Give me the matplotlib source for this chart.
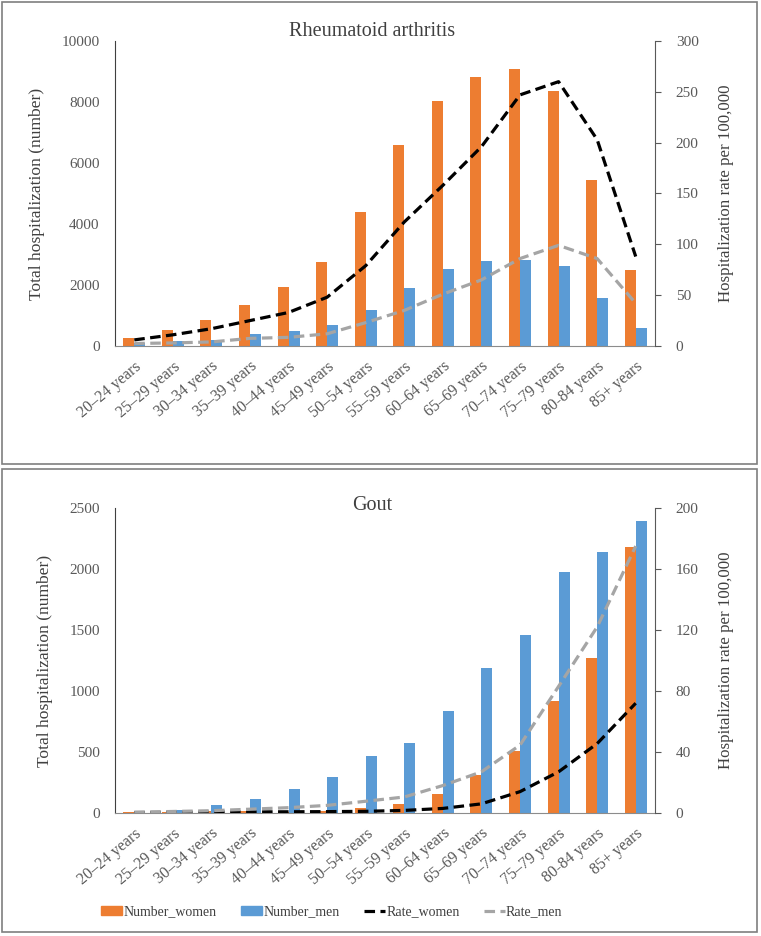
import numpy as np
import matplotlib
matplotlib.use('Agg')
import matplotlib.pyplot as plt
from matplotlib.patches import Rectangle
from matplotlib.lines import Line2D
from matplotlib.patches import Patch

plt.rcParams['font.family'] = ['Liberation Serif', 'DejaVu Serif']

age_groups = ['20–24 years', '25–29 years', '30–34 years', '35–39 years',
              '40–44 years', '45–49 years', '50–54 years', '55–59 years',
              '60–64 years', '65–69 years', '70–74 years', '75–79 years',
              '80-84 years', '85+ years']

# Rheumatoid arthritis
ra_number_women = [260, 540, 850, 1340, 1930, 2740, 4400, 6580, 8040, 8810,
                   9080, 8370, 5440, 2500]
ra_number_men = [110, 180, 210, 380, 490, 690, 1180, 1900, 2540, 2790,
                 2830, 2620, 1560, 580]
ra_rate_women = [6, 11, 17, 25, 33, 48, 79, 122, 158, 196, 247, 260, 203, 88]
ra_rate_men = [2.5, 3, 4, 7.5, 8.5, 12, 23, 35, 51, 65, 86, 99, 86, 42]

# Gout
gout_number_women = [8, 5, 20, 15, 10, 15, 44, 77, 153, 315, 507, 915,
                     1271, 2177]
gout_number_men = [5, 22, 66, 112, 194, 293, 465, 575, 838, 1186, 1459,
                   1974, 2141, 2396]
gout_rate_women = [0.3, 0.4, 0.5, 0.7, 0.8, 0.9, 1.1, 1.7, 3, 6, 14, 27,
                   45.5, 72]
gout_rate_men = [0.5, 1, 1.5, 2.5, 3.5, 5, 7.7, 10.5, 18, 27, 44.5, 83,
                 122, 175]

orange = '#ED7D31'
blue = '#5B9BD5'
grey_line = '#A5A5A5'
text_col = '#404040'
tick_col = '#595959'

W, H = 761, 936
fig = plt.figure(figsize=(W / 100, H / 100), dpi=100)

# panel frames
for (x0, y0, x1, y1) in [(2, 2, 757, 464), (2, 469, 757, 932)]:
    fig.patches.append(Rectangle((x0 / W, 1 - y1 / H), (x1 - x0) / W,
                                 (y1 - y0) / H, transform=fig.transFigure,
                                 fill=False, edgecolor='#7f7f7f', lw=1.2))

dash = (0, (3.3, 1.7))
bw = 0.285


def panel(rect, title, title_y, nw, nm, rw, rm, ymax, yticks, rmax, rticks):
    ax = fig.add_axes(rect)
    x = np.arange(len(age_groups))
    ax.bar(x - bw / 2, nw, bw, color=orange, zorder=2)
    ax.bar(x + bw / 2, nm, bw, color=blue, zorder=2)
    ax.set_xlim(-0.5, len(age_groups) - 0.5)
    ax.set_ylim(0, ymax)
    ax.set_yticks(yticks)
    ax.tick_params(axis='y', length=0, pad=11, labelsize=11,
                   labelcolor=tick_col)
    ax.set_xticks(x)
    ax.set_xticklabels(age_groups, rotation=40, ha='right',
                       rotation_mode='anchor', fontsize=11.5, color=tick_col)
    ax.tick_params(axis='x', length=0, pad=9)
    for s in ['top', 'right']:
        ax.spines[s].set_visible(False)
    ax.spines['left'].set_color('#404040')
    ax.spines['bottom'].set_color('#8c8c8c')
    ax.set_ylabel('Total hospitalization (number)', fontsize=12.6,
                  color=text_col, labelpad=12)
    fig.text(372 / W, 1 - title_y / H, title, fontsize=14.5, color=text_col,
             ha='center', va='center')

    ax2 = ax.twinx()
    ax2.plot(x, rw, color='black', lw=2.3, ls=dash, zorder=3)
    ax2.plot(x, rm, color=grey_line, lw=2.3, ls=dash, zorder=3)
    ax2.set_ylim(0, rmax)
    ax2.set_yticks(rticks)
    ax2.tick_params(axis='y', length=4, pad=11, labelsize=11,
                    labelcolor=tick_col, color='#595959')
    for s in ['top', 'left', 'bottom']:
        ax2.spines[s].set_visible(False)
    ax2.spines['right'].set_color('#595959')
    ax2.set_ylabel('Hospitalization rate per 100,000', fontsize=12.2,
                   color=text_col, labelpad=14)
    return ax, ax2


ax_l = 115 / W
ax_w = (655 - 115) / W
ax_h = (346 - 41) / H
panel([ax_l, 1 - 346 / H, ax_w, ax_h], 'Rheumatoid arthritis', 31,
      ra_number_women, ra_number_men, ra_rate_women, ra_rate_men,
      10000, np.arange(0, 10001, 2000), 300, np.arange(0, 301, 50))
panel([ax_l, 1 - 813 / H, ax_w, ax_h], 'Gout', 505,
      gout_number_women, gout_number_men, gout_rate_women, gout_rate_men,
      2500, np.arange(0, 2501, 500), 200, np.arange(0, 201, 40))

handles = [Patch(color=orange, label='Number_women'),
           Patch(color=blue, label='Number_men'),
           Line2D([], [], color='black', lw=2.3, ls=dash, label='Rate_women'),
           Line2D([], [], color=grey_line, lw=2.3, ls=dash, label='Rate_men')]
fig.legend(handles=handles, loc='center', bbox_to_anchor=(332 / W, 1 - 912 / H),
           ncol=4, frameon=False, fontsize=10, handlelength=1.5,
           handleheight=0.6, handletextpad=0.1, columnspacing=1.75,
           labelcolor=text_col)

fig.savefig('out.png', dpi=100)
